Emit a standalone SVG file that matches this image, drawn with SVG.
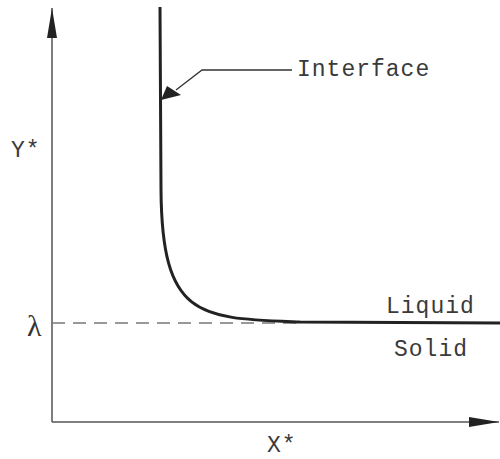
<svg xmlns="http://www.w3.org/2000/svg" width="500" height="459" viewBox="0 0 500 459">
<style>
.t{font-family:"Liberation Mono","DejaVu Sans Mono",monospace;font-size:23px;letter-spacing:1px;fill:#3a3a3a}
.ax{stroke:#555;stroke-width:1.5;fill:none}
</style>
<defs>
<marker id="ah" markerWidth="30" markerHeight="10" refX="30" refY="5" orient="auto" markerUnits="userSpaceOnUse">
<path d="M0,0 L30,5 L0,10 Z" fill="#222"/>
</marker>
</defs>
<rect width="500" height="459" fill="#fff"/>
<g id="connectors">
<line class="ax" x1="52" y1="422" x2="52" y2="8" marker-end="url(#ah)"/>
<line class="ax" x1="52" y1="422" x2="499" y2="422" marker-end="url(#ah)"/>
<line x1="52" y1="323" x2="300" y2="323" stroke="#777" stroke-width="1.5" stroke-dasharray="13,8"/>
<path d="M160,7 L161,190 C162,320 200,318 300,322 L500,323" stroke="#222" stroke-width="3" fill="none"/>
<polyline points="292,70 202,70 176,90" stroke="#333" stroke-width="1.3" fill="none"/>
<polygon points="161,100 167,86 181,95" fill="#222"/>
</g>
<g id="labels">
<text class="t" x="297" y="76">Interface</text>
<text class="t" x="386" y="313">Liquid</text>
<text class="t" x="394" y="356">Solid</text>
<text class="t" x="267" y="452">X*</text>
<text class="t" x="11" y="157">Y*</text>
<text x="27" y="336" style="font-family:'Liberation Serif',serif;font-size:30px;fill:#333">λ</text>
</g>
</svg>
